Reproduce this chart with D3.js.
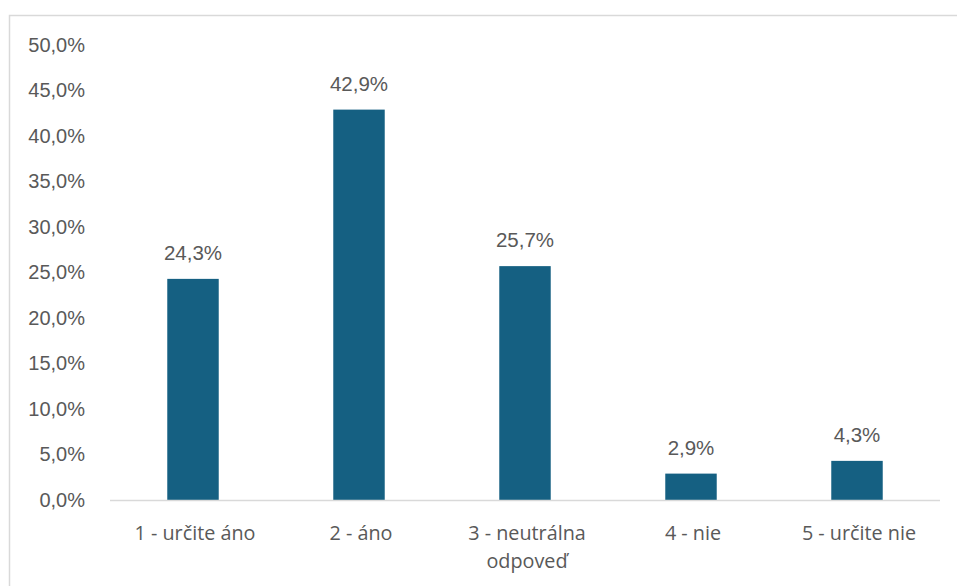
<!DOCTYPE html>
<html>
<head>
<meta charset="utf-8">
<script src="https://cdn.jsdelivr.net/npm/d3@7"></script>
<style>
  html, body { margin: 0; padding: 0; background: #fff; }
  svg { display: block; }
  text { font-family: "Liberation Sans", Arial, sans-serif; fill: #595959; }
  .cat { font-family: "Open Sans", "Liberation Sans", sans-serif; }
</style>
</head>
<body>
<script>
// Survey answers and share of respondents (%)
const categories = [["1 - určite áno"], ["2 - áno"], ["3 - neutrálna", "odpoveď"], ["4 - nie"], ["5 - určite nie"]];
const values = [24.3, 42.9, 25.7, 2.9, 4.3];
const yTicks = [0, 5, 10, 15, 20, 25, 30, 35, 40, 45, 50];

const W = 957, H = 586;
const margin = { left: 110, right: 17, top: 45, bottom: 86 };

const svg = d3.select("body").append("svg").attr("width", W).attr("height", H);

// chart frame
svg.append("rect")
  .attr("x", 9.5).attr("y", 15.5)
  .attr("width", W + 10).attr("height", H + 10)
  .attr("fill", "none").attr("stroke", "#d9d9d9").attr("stroke-width", 1.5);

const x = d3.scaleBand()
  .domain(categories.map((d, i) => i))
  .range([margin.left, W - margin.right])
  .paddingInner(0.69).paddingOuter(0.345);

const y = d3.scaleLinear().domain([0, 50]).range([H - margin.bottom, margin.top]);

const fmt = v => d3.format(".1f")(v).replace(".", ",") + "%";

// y axis labels
svg.append("g").selectAll("text").data(yTicks).join("text")
  .attr("x", 85).attr("y", d => y(d) + 6.5)
  .attr("text-anchor", "end").attr("font-size", 20)
  .text(d => fmt(d));

// bars
svg.append("g").selectAll("rect").data(values).join("rect")
  .attr("x", (d, i) => x(i)).attr("width", x.bandwidth())
  .attr("y", d => y(d)).attr("height", d => y(0) - y(d))
  .attr("fill", "#156082");

// baseline
svg.append("line")
  .attr("x1", margin.left).attr("x2", W - margin.right)
  .attr("y1", y(0) + 0.5).attr("y2", y(0) + 0.5)
  .attr("stroke", "#d9d9d9").attr("stroke-width", 1.5);

// value labels
svg.append("g").selectAll("text").data(values).join("text")
  .attr("x", (d, i) => x(i) + x.bandwidth() / 2)
  .attr("y", d => y(d) - 19)
  .attr("text-anchor", "middle").attr("font-size", 20.5)
  .text(d => fmt(d));

// category labels
const cl = svg.append("g").selectAll("text").data(categories).join("text")
  .attr("class", "cat")
  .attr("x", (d, i) => x(i) + x.bandwidth() / 2 + 2)
  .attr("y", y(0) + 40)
  .attr("text-anchor", "middle").attr("font-size", 19.8);
cl.selectAll("tspan").data(d => d).join("tspan")
  .attr("x", function () { return d3.select(this.parentNode).attr("x"); })
  .attr("dy", (d, j) => j === 0 ? 0 : 28)
  .text(d => d);
</script>
</body>
</html>
